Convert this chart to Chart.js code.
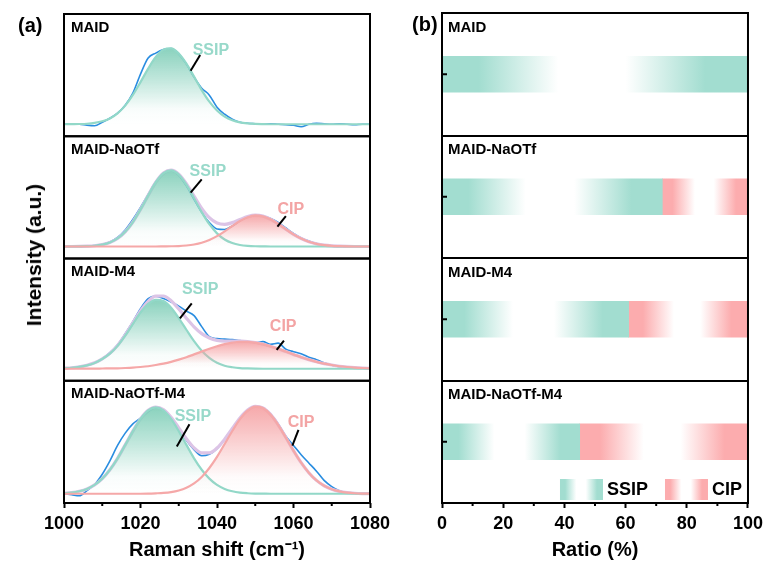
<!DOCTYPE html>
<html>
<head>
<meta charset="utf-8">
<script src="https://cdn.jsdelivr.net/npm/chart.js@4.4.0/dist/chart.umd.min.js"></script>
<style>
  body { margin: 0; background: #fff; }
  #wrap { position: relative; width: 768px; height: 570px; overflow: hidden;
          font-family: Arial, "Liberation Sans", Helvetica, sans-serif; font-weight: bold; color: #000; }
  #cvA { position: absolute; left: 0; top: 0; }
  #cvB { position: absolute; left: 410px; top: 0; }
  .lbl { position: absolute; white-space: nowrap; }
  #ylab { left: 34px; top: 255px; font-size: 21px; transform: translate(-50%, -50%) rotate(-90deg); }
</style>
</head>
<body>
<div id="wrap">
  <canvas id="cvA" width="410" height="570"></canvas>
  <canvas id="cvB" width="358" height="570"></canvas>
  <div class="lbl" style="left:18px;top:14px;font-size:20px">(a)</div>
  <div class="lbl" style="left:412px;top:13px;font-size:20px">(b)</div>
  <div class="lbl" id="ylab">Intensity (a.u.)</div>
</div>
<script>
const FONT = 'Arial, "Liberation Sans", Helvetica, sans-serif';
Chart.defaults.font.family = FONT;

// ---- data ----
const samples = ['MAID', 'MAID-NaOTf', 'MAID-M4', 'MAID-NaOTf-M4'];

const shift = [1000, 1002, 1004, 1006, 1008, 1010, 1012, 1014, 1016, 1018,
               1020, 1022, 1024, 1026, 1028, 1030, 1032, 1034, 1036, 1038,
               1040, 1042, 1044, 1046, 1048, 1050, 1052, 1054, 1056, 1058,
               1060, 1062, 1064, 1066, 1068, 1070, 1072, 1074, 1076, 1078, 1080];
const shiftTicks = [1000, 1020, 1040, 1060, 1080];
const shiftMinor = [1010, 1030, 1050, 1070];

// measured spectra
const expMAID = [0, 0, 0, -0.01, -0.015, 0.02, 0.06, 0.11, 0.19, 0.31,
                 0.50, 0.66, 0.71, 0.745, 0.755, 0.70, 0.60, 0.47, 0.36, 0.29,
                 0.17, 0.10, 0.05, 0.02, 0.01, 0.005, 0, 0.005, 0, -0.005,
                 -0.01, -0.025, 0, 0.01, 0.005, 0, 0.005, 0, -0.005, 0, 0];
const expNaOTf = [0, 0, 0, 0.004, 0.01, 0.02, 0.045, 0.09, 0.165, 0.27,
                  0.39, 0.52, 0.645, 0.73, 0.755, 0.71, 0.605, 0.47, 0.34, 0.24,
                  0.175, 0.17, 0.205, 0.255, 0.295, 0.315, 0.305, 0.28, 0.24, 0.185,
                  0.13, 0.085, 0.055, 0.03, 0.012, 0.005, 0, 0, 0, 0, 0];
const expM4 = [0.005, 0.01, 0.02, 0.035, 0.06, 0.10, 0.16, 0.24, 0.35, 0.47,
               0.60, 0.70, 0.725, 0.70, 0.665, 0.625, 0.575, 0.53, 0.42, 0.32,
               0.30, 0.295, 0.29, 0.28, 0.27, 0.26, 0.27, 0.245, 0.255, 0.195,
               0.17, 0.15, 0.115, 0.09, 0.06, 0.035, 0.02, 0.012, 0.008, 0.005, 0.003];
const expNaOTfM4 = [0, -0.01, -0.02, 0.03, 0.09, 0.19, 0.32, 0.47, 0.59, 0.68,
                    0.735, 0.80, 0.84, 0.815, 0.74, 0.635, 0.52, 0.43, 0.37, 0.385,
                    0.44, 0.53, 0.635, 0.735, 0.81, 0.85, 0.835, 0.775, 0.68, 0.56,
                    0.47, 0.38, 0.30, 0.22, 0.13, 0.07, 0.03, 0.01, 0.005, 0, 0];

// fitted SSIP band
const ssipMAID = [0, 0.001, 0.002, 0.005, 0.013, 0.029, 0.058, 0.109, 0.186, 0.292,
                  0.420, 0.555, 0.671, 0.744, 0.757, 0.706, 0.605, 0.475, 0.341, 0.225,
                  0.137, 0.076, 0.039, 0.018, 0.008, 0.003, 0.001, 0, 0, 0,
                  0, 0, 0, 0, 0, 0, 0, 0, 0, 0, 0];
const ssipNaOTf = [0, 0, 0.001, 0.003, 0.007, 0.018, 0.040, 0.080, 0.146, 0.244,
                   0.370, 0.510, 0.641, 0.731, 0.760, 0.718, 0.617, 0.482, 0.343, 0.222,
                   0.131, 0.070, 0.034, 0.015, 0.006, 0.002, 0.001, 0, 0, 0,
                   0, 0, 0, 0, 0, 0, 0, 0, 0, 0, 0];
const ssipM4 = [0.005, 0.01, 0.019, 0.034, 0.058, 0.097, 0.15, 0.228, 0.33, 0.447,
                0.561, 0.647, 0.688, 0.675, 0.609, 0.506, 0.389, 0.275, 0.179, 0.108,
                0.059, 0.030, 0.015, 0.006, 0.003, 0.001, 0, 0, 0, 0,
                0, 0, 0, 0, 0, 0, 0, 0, 0, 0, 0];
const ssipNaOTfM4 = [0.005, 0.011, 0.024, 0.047, 0.086, 0.147, 0.234, 0.345, 0.476, 0.610,
                     0.729, 0.811, 0.84, 0.811, 0.729, 0.610, 0.476, 0.345, 0.234, 0.147,
                     0.086, 0.047, 0.024, 0.011, 0.005, 0.002, 0.001, 0, 0, 0,
                     0, 0, 0, 0, 0, 0, 0, 0, 0, 0, 0];

// fitted CIP band
const cipNaOTf = [0, 0, 0, 0, 0, 0, 0, 0, 0, 0,
                  0, 0, 0, 0.001, 0.002, 0.004, 0.010, 0.020, 0.037, 0.065,
                  0.103, 0.151, 0.204, 0.254, 0.292, 0.310, 0.302, 0.272, 0.225, 0.172,
                  0.121, 0.079, 0.047, 0.026, 0.013, 0.006, 0.003, 0.001, 0, 0, 0];
const cipM4 = [0, 0, 0, 0.001, 0.001, 0.002, 0.003, 0.004, 0.007, 0.011,
               0.017, 0.025, 0.037, 0.051, 0.069, 0.091, 0.115, 0.143, 0.171, 0.199,
               0.224, 0.246, 0.261, 0.269, 0.269, 0.261, 0.246, 0.224, 0.199, 0.171,
               0.143, 0.115, 0.091, 0.069, 0.051, 0.037, 0.025, 0.017, 0.011, 0.007, 0.004];
const cipNaOTfM4 = [0, 0, 0, 0, 0, 0, 0, 0, 0, 0,
                    0, 0.001, 0.004, 0.008, 0.016, 0.032, 0.059, 0.101, 0.164, 0.251,
                    0.359, 0.484, 0.611, 0.726, 0.809, 0.848, 0.835, 0.772, 0.671, 0.548,
                    0.420, 0.303, 0.205, 0.130, 0.078, 0.044, 0.023, 0.011, 0.005, 0.002, 0.001];

// cumulative fit envelope
const fitNaOTf = [0, 0, 0.001, 0.003, 0.007, 0.018, 0.040, 0.080, 0.146, 0.244,
                  0.370, 0.510, 0.641, 0.732, 0.762, 0.722, 0.627, 0.502, 0.380, 0.287,
                  0.234, 0.221, 0.238, 0.269, 0.298, 0.312, 0.303, 0.272, 0.225, 0.172,
                  0.121, 0.079, 0.047, 0.026, 0.013, 0.006, 0.003, 0.001, 0, 0, 0];
const fitM4 = [0.005, 0.01, 0.019, 0.035, 0.059, 0.099, 0.153, 0.232, 0.337, 0.458,
               0.578, 0.672, 0.725, 0.726, 0.678, 0.597, 0.504, 0.418, 0.350, 0.307,
               0.283, 0.276, 0.276, 0.275, 0.272, 0.262, 0.246, 0.224, 0.199, 0.171,
               0.143, 0.115, 0.091, 0.069, 0.051, 0.037, 0.025, 0.017, 0.011, 0.007, 0.004];
const fitNaOTfM4 = [0.005, 0.011, 0.024, 0.047, 0.086, 0.147, 0.234, 0.345, 0.476, 0.610,
                    0.729, 0.812, 0.844, 0.819, 0.745, 0.642, 0.535, 0.446, 0.398, 0.398,
                    0.445, 0.531, 0.635, 0.737, 0.814, 0.850, 0.836, 0.772, 0.671, 0.548,
                    0.420, 0.303, 0.205, 0.130, 0.078, 0.044, 0.023, 0.011, 0.005, 0.002, 0.001];

// SSIP / CIP share (%)
const ssipRatio = [100, 72, 61, 45];
const cipRatio = [0, 28, 39, 55];
const ratioTicks = [0, 20, 40, 60, 80, 100];
const ratioMinor = [10, 30, 50, 70, 90];

// ---- styling ----
const C_EXP = '#2a8de0';
const C_FIT = '#dcc4e6';
const C_SSIP_LINE = '#92d8c8';
const C_CIP_LINE = '#f5a8a8';
const C_SSIP_TEXT = '#98d9ca';
const C_CIP_TEXT = '#f3a4a4';
const RGB_SSIP = '128,206,184';
const RGB_CIP = '245,162,164';
const RGB_SSIP_BAR = '162,221,208';
const RGB_CIP_BAR = '252,172,174';

// band label + leader line, in (shift, intensity) of each stacked panel
const peakNotes = [
  { panel: 0, kind: 'SSIP', at: [1038.4, 0.73], from: [1035.6, 0.69], to: [1033.1, 0.534] },
  { panel: 1, kind: 'SSIP', at: [1037.6, 0.75], from: [1036.0, 0.67], to: [1033.1, 0.537] },
  { panel: 1, kind: 'CIP', at: [1059.3, 0.364], from: [1058.0, 0.304], to: [1055.8, 0.197] },
  { panel: 2, kind: 'SSIP', at: [1035.6, 0.785], from: [1033.4, 0.653], to: [1030.3, 0.503] },
  { panel: 2, kind: 'CIP', at: [1057.3, 0.42], from: [1057.5, 0.28], to: [1055.6, 0.187] },
  { panel: 3, kind: 'SSIP', at: [1033.7, 0.753], from: [1032.8, 0.677], to: [1029.5, 0.459] },
  { panel: 3, kind: 'CIP', at: [1062.0, 0.694], from: [1061.3, 0.621], to: [1059.7, 0.468] }
];

const groups = [
  { exp: expMAID, ssip: ssipMAID },
  { exp: expNaOTf, ssip: ssipNaOTf, cip: cipNaOTf, fit: fitNaOTf },
  { exp: expM4, ssip: ssipM4, cip: cipM4, fit: fitM4 },
  { exp: expNaOTfM4, ssip: ssipNaOTfM4, cip: cipNaOTfM4, fit: fitNaOTfM4 }
];

const pts = arr => shift.map((x, i) => ({ x: x, y: arr[i] }));

// vertical fade from the band's top down to its baseline
function areaFill(axisId, rgb) {
  return function(context) {
    const chart = context.chart;
    const ys = chart.scales[axisId];
    if (!chart.chartArea || !ys) return 'rgba(' + rgb + ',0.5)';
    const peak = Math.max.apply(null, context.dataset.data.map(p => p.y));
    const top = ys.getPixelForValue(peak);
    const base = ys.getPixelForValue(0);
    const g = chart.ctx.createLinearGradient(0, top, 0, base);
    g.addColorStop(0, 'rgba(' + rgb + ',0.92)');
    g.addColorStop(0.4, 'rgba(' + rgb + ',0.5)');
    g.addColorStop(0.8, 'rgba(' + rgb + ',0.05)');
    g.addColorStop(1, 'rgba(' + rgb + ',0)');
    return g;
  };
}

// horizontal colour - white - colour band used by the ratio bars and their legend
function fadeBand(c, x0, x1, rgb) {
  const g = c.createLinearGradient(x0, 0, x1, 0);
  g.addColorStop(0, 'rgb(' + rgb + ')');
  g.addColorStop(0.12, 'rgb(' + rgb + ')');
  g.addColorStop(0.38, '#ffffff');
  g.addColorStop(0.6, '#ffffff');
  g.addColorStop(0.86, 'rgb(' + rgb + ')');
  g.addColorStop(1, 'rgb(' + rgb + ')');
  return g;
}

let datasetsA = [];
groups.forEach(function(g, k) {
  const axis = 'y' + k;
  const common = { yAxisID: axis, pointRadius: 0, cubicInterpolationMode: 'monotone', fill: false };
  datasetsA.push(Object.assign({}, common, { label: 'exp', data: pts(g.exp), borderColor: C_EXP, borderWidth: 1.6, order: 4 }));
  if (g.fit) {
    datasetsA.push(Object.assign({}, common, { label: 'fit', data: pts(g.fit), borderColor: C_FIT, borderWidth: 3.2, order: 3 }));
  }
  datasetsA.push(Object.assign({}, common, {
    label: 'SSIP', data: pts(g.ssip), borderColor: C_SSIP_LINE, borderWidth: 2.2, order: 2,
    fill: 'origin', backgroundColor: areaFill(axis, RGB_SSIP)
  }));
  if (g.cip) {
    datasetsA.push(Object.assign({}, common, {
      label: 'CIP', data: pts(g.cip), borderColor: C_CIP_LINE, borderWidth: 2.2, order: 1,
      fill: 'origin', backgroundColor: areaFill(axis, RGB_CIP)
    }));
  }
});

let scalesA = {
  x: {
    type: 'linear', min: 1000, max: 1080,
    afterBuildTicks: s => { s.ticks = shiftTicks.map(v => ({ value: v })); },
    afterFit: s => { s.height = 67; },
    border: { display: false },
    grid: { drawOnChartArea: false, drawTicks: true, tickLength: 5, tickWidth: 2, tickColor: '#000' },
    ticks: { color: '#000', font: { size: 18, weight: 'bold' }, padding: 5, maxRotation: 0, callback: v => String(v) },
    title: { display: true, text: 'Raman shift (cm\u207B\u00B9)', color: '#000',
             font: { size: 20, weight: 'bold' }, padding: { top: 0, bottom: 8 } }
  }
};
// stacked panels, one value axis each
for (let k = samples.length - 1; k >= 0; k--) {
  scalesA['y' + k] = {
    type: 'linear', position: 'left', stack: 'spectra', stackWeight: 1,
    min: k === 3 ? -0.09 : -0.12, max: 1.1,
    ticks: { display: false }, grid: { display: false }, border: { display: false },
    afterFit: s => { s.width = 0; }
  };
}

const spectraDecor = {
  id: 'spectraDecor',
  afterDraw(chart) {
    const ctx = chart.ctx, area = chart.chartArea, xs = chart.scales.x;
    ctx.save();
    ctx.strokeStyle = '#000';
    ctx.lineWidth = 2;
    samples.forEach(function(name, k) {
      const ys = chart.scales['y' + k];
      ctx.strokeRect(area.left, ys.top, area.right - area.left, ys.bottom - ys.top);
      ctx.fillStyle = '#000';
      ctx.font = 'bold 15px ' + FONT;
      ctx.textAlign = 'left';
      ctx.textBaseline = 'top';
      ctx.fillText(name, area.left + 7, ys.top + 6);
    });
    shiftMinor.forEach(function(v) {
      const px = xs.getPixelForValue(v);
      ctx.beginPath();
      ctx.moveTo(px, area.bottom);
      ctx.lineTo(px, area.bottom + 3);
      ctx.stroke();
    });
    peakNotes.forEach(function(n) {
      const ys = chart.scales['y' + n.panel];
      ctx.fillStyle = n.kind === 'SSIP' ? C_SSIP_TEXT : C_CIP_TEXT;
      ctx.font = 'bold 16px ' + FONT;
      ctx.textAlign = 'center';
      ctx.textBaseline = 'middle';
      ctx.fillText(n.kind, xs.getPixelForValue(n.at[0]), ys.getPixelForValue(n.at[1]));
      ctx.beginPath();
      ctx.moveTo(xs.getPixelForValue(n.from[0]), ys.getPixelForValue(n.from[1]));
      ctx.lineTo(xs.getPixelForValue(n.to[0]), ys.getPixelForValue(n.to[1]));
      ctx.strokeStyle = '#000';
      ctx.lineWidth = 2;
      ctx.stroke();
    });
    ctx.restore();
  }
};

new Chart(document.getElementById('cvA'), {
  type: 'line',
  data: { datasets: datasetsA },
  options: {
    responsive: false,
    animation: false,
    layout: { padding: { left: 64, right: 40, top: 14, bottom: 0 } },
    plugins: { legend: { display: false }, tooltip: { enabled: false } },
    scales: scalesA
  },
  plugins: [spectraDecor]
});

// ---- ratio bars ----
function barFill(ds) {
  return function(context) {
    const chart = context.chart;
    const xs = chart.scales.x;
    const rgb = ds === 0 ? RGB_SSIP_BAR : RGB_CIP_BAR;
    if (!chart.chartArea || !xs || context.type !== 'data') return 'rgb(' + rgb + ')';
    const i = context.dataIndex;
    const start = ds === 0 ? 0 : ssipRatio[i];
    const end = ds === 0 ? ssipRatio[i] : ssipRatio[i] + cipRatio[i];
    const x0 = xs.getPixelForValue(start), x1 = xs.getPixelForValue(end);
    if (x1 - x0 < 1) return 'rgba(0,0,0,0)';
    return fadeBand(chart.ctx, x0, x1, rgb);
  };
}

const ratioDecor = {
  id: 'ratioDecor',
  afterDraw(chart) {
    const ctx = chart.ctx, area = chart.chartArea, xs = chart.scales.x, ys = chart.scales.y;
    const band = (area.bottom - area.top) / samples.length;
    ctx.save();
    ctx.strokeStyle = '#000';
    ctx.lineWidth = 2;
    ctx.strokeRect(area.left, area.top, area.right - area.left, area.bottom - area.top);
    samples.forEach(function(name, i) {
      const cy = ys.getPixelForValue(i);
      ctx.fillStyle = '#000';
      ctx.font = 'bold 15px ' + FONT;
      ctx.textAlign = 'left';
      ctx.textBaseline = 'top';
      ctx.fillText(name, area.left + 6, cy - band / 2 + 7);
      ctx.beginPath();
      ctx.moveTo(area.left, cy);
      ctx.lineTo(area.left + 5, cy);
      ctx.stroke();
    });
    ratioMinor.forEach(function(v) {
      const px = xs.getPixelForValue(v);
      ctx.beginPath();
      ctx.moveTo(px, area.bottom);
      ctx.lineTo(px, area.bottom + 3);
      ctx.stroke();
    });
    // legend
    const items = [
      { text: 'SSIP', rgb: RGB_SSIP_BAR, left: area.right - 188 },
      { text: 'CIP', rgb: RGB_CIP_BAR, left: area.right - 83 }
    ];
    const top = area.bottom - 24, w = 43, h = 21;
    items.forEach(function(it) {
      ctx.fillStyle = fadeBand(ctx, it.left, it.left + w, it.rgb);
      ctx.fillRect(it.left, top, w, h);
      ctx.fillStyle = '#000';
      ctx.font = 'bold 18px ' + FONT;
      ctx.textAlign = 'left';
      ctx.textBaseline = 'middle';
      ctx.fillText(it.text, it.left + w + 4, top + h / 2 + 1);
    });
    ctx.restore();
  }
};

new Chart(document.getElementById('cvB'), {
  type: 'bar',
  data: {
    labels: samples,
    datasets: [
      { label: 'SSIP', data: ssipRatio, backgroundColor: barFill(0) },
      { label: 'CIP', data: cipRatio, backgroundColor: barFill(1) }
    ]
  },
  options: {
    indexAxis: 'y',
    responsive: false,
    animation: false,
    layout: { padding: { left: 32, right: 20, top: 13, bottom: 0 } },
    plugins: { legend: { display: false }, tooltip: { enabled: false } },
    datasets: { bar: { barThickness: 36, borderWidth: 0 } },
    scales: {
      x: {
        stacked: true, min: 0, max: 100,
        afterBuildTicks: s => { s.ticks = ratioTicks.map(v => ({ value: v })); },
        afterFit: s => { s.height = 67; },
        border: { display: false },
        grid: { drawOnChartArea: false, drawTicks: true, tickLength: 5, tickWidth: 2, tickColor: '#000' },
        ticks: { color: '#000', font: { size: 18, weight: 'bold' }, padding: 5, maxRotation: 0 },
        title: { display: true, text: 'Ratio (%)', color: '#000',
                 font: { size: 20, weight: 'bold' }, padding: { top: 0, bottom: 8 } }
      },
      y: {
        stacked: true,
        ticks: { display: false },
        grid: { offset: true, color: '#000', lineWidth: 2, drawTicks: false },
        border: { display: false },
        afterFit: s => { s.width = 0; }
      }
    }
  },
  plugins: [ratioDecor]
});
</script>
</body>
</html>
